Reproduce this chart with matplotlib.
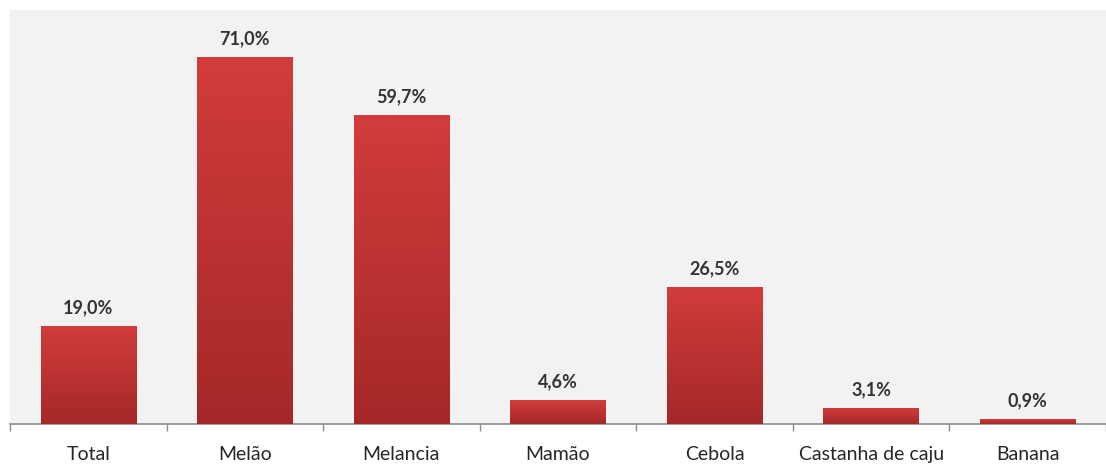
import matplotlib.pyplot as plt
import numpy as np
from matplotlib.colors import LinearSegmentedColormap

plt.rcParams['font.family'] = ['Lato', 'DejaVu Sans']

categorias = ['Total', 'Melão', 'Melancia', 'Mamão', 'Cebola', 'Castanha de caju', 'Banana']
valores = [19.0, 71.0, 59.7, 4.6, 26.5, 3.1, 0.9]
rotulos = ['19,0%', '71,0%', '59,7%', '4,6%', '26,5%', '3,1%', '0,9%']

fig = plt.figure(figsize=(11.06, 4.72), dpi=100)
ax = fig.add_axes([10/1106, 48/472, 1096/1106, 414/472])
ax.set_facecolor('#f2f2f2')

x = np.arange(len(categorias))
bars = ax.bar(x, valores, width=0.61, color='#c43434', zorder=2)

# gradiente vertical dentro de cada barra
cmap = LinearSegmentedColormap.from_list('verm', ['#a52828', '#d23c3c'])
grad = np.linspace(0, 1, 256).reshape(-1, 1)
for b in bars:
    x0, w, h = b.get_x(), b.get_width(), b.get_height()
    im = ax.imshow(grad, cmap=cmap, aspect='auto', origin='lower',
                   extent=(x0, x0 + w, 0, h), zorder=3)
    im.set_clip_path(b)

for b, txt in zip(bars, rotulos):
    ax.annotate(txt, (b.get_x() + b.get_width()/2, b.get_height()),
                xytext=(0, 7), textcoords='offset points', ha='center', va='bottom',
                fontsize=13, fontweight='bold', color='#333333')

ax.set_xlim(-0.5, len(categorias) - 0.5)
ax.set_ylim(0, 80)
ax.set_yticks([])
for s in ['top', 'left', 'right']:
    ax.spines[s].set_visible(False)
ax.spines['bottom'].set_color('#8c8c8c')
ax.spines['bottom'].set_linewidth(1.2)

ax.set_xticks(x)
ax.set_xticklabels(categorias, fontsize=14, color='#262626')
ax.tick_params(axis='x', which='major', length=0, pad=16)
ax.set_xticks(np.arange(-0.5, len(categorias)), minor=True)
ax.tick_params(axis='x', which='minor', length=5, color='#8c8c8c', width=1)

plt.savefig('out.png', dpi=100, facecolor='white')
